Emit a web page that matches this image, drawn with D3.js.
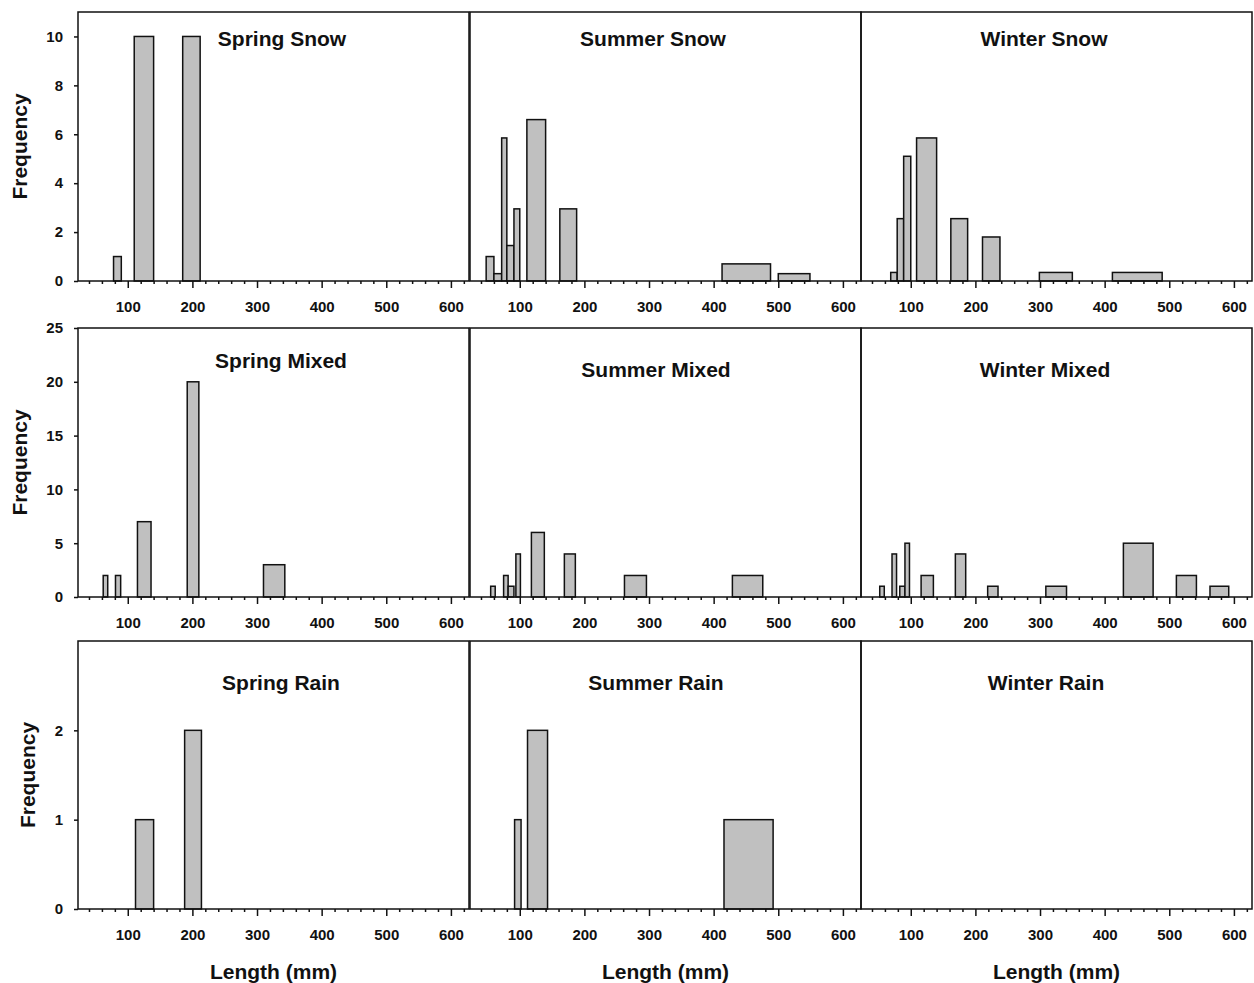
<!DOCTYPE html>
<html>
<head>
<meta charset="utf-8">
<script src="https://cdn.jsdelivr.net/npm/d3@7/dist/d3.min.js"></script>
<style>
  html, body { margin: 0; padding: 0; background: #fff; }
  svg { display: block; font-family: "Liberation Sans", Arial, sans-serif; }
  .tick text { font-weight: bold; fill: #111; }
</style>
</head>
<body>
<svg id="chart" width="1254" height="983"></svg>
<script>
// Length bins per panel: [bin start (mm), bin end (mm), frequency]
const springSnow  = [[78, 90, 1], [110, 140, 10], [185, 212, 10]];
const summerSnow  = [[48, 60, 1], [60, 72, 0.3], [72, 80, 5.85], [80, 91, 1.45], [91, 100, 2.95],
                     [111, 140, 6.6], [162, 188, 2.95], [413, 488, 0.7], [500, 549, 0.3]];
const winterSnow  = [[69, 79, 0.35], [79, 89, 2.55], [89, 100, 5.1], [109, 140, 5.85], [162, 188, 2.55],
                     [211, 238, 1.8], [299, 350, 0.35], [412, 489, 0.35]];
const springMixed = [[62, 69, 2], [81, 89, 2], [115, 136, 7], [192, 210, 20], [310, 343, 3]];
const summerMixed = [[55, 62, 1], [75, 82, 2], [82, 91, 1], [94, 101, 4], [118, 138, 6],
                     [169, 186, 4], [262, 296, 2], [429, 476, 2]];
const winterMixed = [[52, 59, 1], [71, 78, 4], [83, 91, 1], [91, 98, 5], [116, 135, 2], [169, 185, 4],
                     [219, 235, 1], [309, 341, 1], [429, 475, 5], [511, 542, 2], [563, 592, 1]];
const springRain  = [[112, 140, 1], [188, 214, 2]];
const summerRain  = [[92, 102, 1], [112, 143, 2], [416, 492, 1]];
const winterRain  = [];

const seasons = ["Spring", "Summer", "Winter"];
const types = ["Snow", "Mixed", "Rain"];
const panelData = [
  [springSnow, summerSnow, winterSnow],
  [springMixed, summerMixed, winterMixed],
  [springRain, summerRain, winterRain]
];

// Axis settings
const xDomain = [23, 628];
const xMajorTicks = [100, 200, 300, 400, 500, 600];
const xMinorTicks = d3.range(40, 628, 20).filter(v => v % 100 !== 0);
const yDomains = [[0, 11], [0, 25], [0, 3]];
const yTicks = [[0, 2, 4, 6, 8, 10], [0, 5, 10, 15, 20, 25], [0, 1, 2]];
const xAxisTitle = "Length (mm)";
const yAxisTitle = "Frequency";

// Layout
const colLeft = [78, 470, 861];
const colWidth = 391;
const rowTop = [12, 328, 641];
const rowBottom = [281, 597, 909];
const titleX = [[282, 653, 1044], [281, 656, 1045], [281, 656, 1046]];
const titleBaseline = [[46, 46, 46], [368, 377, 377], [690, 690, 690]];
const yTitleX = [20, 20, 28];

const svg = d3.select("#chart");

types.forEach((type, r) => {
  const y = d3.scaleLinear().domain(yDomains[r]).range([rowBottom[r], rowTop[r]]);

  seasons.forEach((season, c) => {
    const x = d3.scaleLinear().domain(xDomain).range([colLeft[c], colLeft[c] + colWidth]);
    const g = svg.append("g");

    // histogram bars
    g.selectAll("rect.bar")
      .data(panelData[r][c])
      .join("rect")
      .attr("class", "bar")
      .attr("x", d => x(d[0]))
      .attr("width", d => x(d[1]) - x(d[0]))
      .attr("y", d => y(d[2]))
      .attr("height", d => y(0) - y(d[2]))
      .attr("fill", "#c0c0c0")
      .attr("stroke", "#111")
      .attr("stroke-width", 1.5);

    // minor x ticks
    const minor = g.append("g")
      .attr("transform", `translate(0,${rowBottom[r]})`)
      .call(d3.axisBottom(x).tickValues(xMinorTicks).tickSize(3).tickFormat(""));
    minor.select(".domain").remove();
    minor.selectAll(".tick line").attr("stroke", "#111").attr("stroke-width", 1.5);

    // major x ticks with labels
    const major = g.append("g")
      .attr("transform", `translate(0,${rowBottom[r]})`)
      .call(d3.axisBottom(x).tickValues(xMajorTicks).tickSize(7).tickPadding(13).tickFormat(d3.format("d")));
    major.select(".domain").remove();
    major.selectAll(".tick line").attr("stroke", "#111").attr("stroke-width", 1.5);
    major.selectAll(".tick text").attr("font-size", 15);

    // panel frame
    g.append("rect")
      .attr("x", colLeft[c])
      .attr("y", rowTop[r])
      .attr("width", colWidth)
      .attr("height", rowBottom[r] - rowTop[r])
      .attr("fill", "none")
      .attr("stroke", "#111")
      .attr("stroke-width", 1.5);

    // panel title
    g.append("text")
      .attr("x", titleX[r][c])
      .attr("y", titleBaseline[r][c])
      .attr("text-anchor", "middle")
      .attr("font-size", 21)
      .attr("font-weight", "bold")
      .attr("fill", "#111")
      .text(`${season} ${type}`);

    // x axis title on bottom row
    if (r === types.length - 1) {
      g.append("text")
        .attr("x", colLeft[c] + colWidth / 2)
        .attr("y", 979)
        .attr("text-anchor", "middle")
        .attr("font-size", 21)
        .attr("font-weight", "bold")
        .attr("fill", "#111")
        .text(xAxisTitle);
    }
  });

  // y axis on the first column
  const yAxis = svg.append("g")
    .attr("transform", `translate(${colLeft[0]},0)`)
    .call(d3.axisLeft(y).tickValues(yTicks[r]).tickSize(4).tickPadding(11).tickFormat(d3.format("d")));
  yAxis.select(".domain").remove();
  yAxis.selectAll(".tick line").attr("stroke", "#111").attr("stroke-width", 1.5);
  yAxis.selectAll(".tick text").attr("font-size", 15);

  svg.append("text")
    .attr("transform", `translate(${yTitleX[r]},${(rowTop[r] + rowBottom[r]) / 2}) rotate(-90)`)
    .attr("text-anchor", "middle")
    .attr("dy", "0.35em")
    .attr("font-size", 21)
    .attr("font-weight", "bold")
    .attr("fill", "#111")
    .text(yAxisTitle);
});
</script>
</body>
</html>
